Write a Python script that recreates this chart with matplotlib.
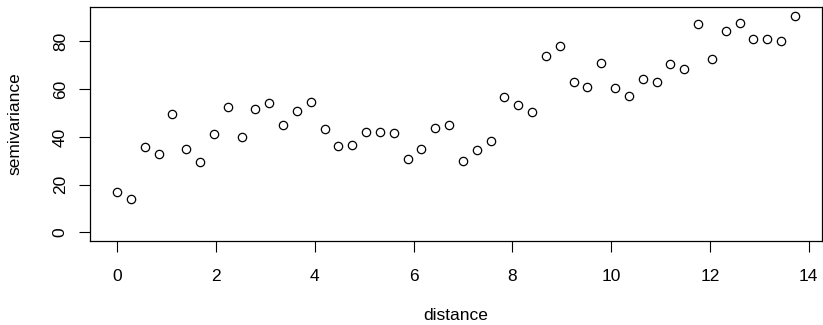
import matplotlib
matplotlib.use("Agg")
import matplotlib.pyplot as plt

# lag distances and semivariance estimates
distance = [
    0.00, 0.28, 0.56, 0.84, 1.12, 1.40, 1.68, 1.96, 2.24, 2.52,
    2.80, 3.08, 3.36, 3.64, 3.92, 4.20, 4.48, 4.76, 5.04, 5.32,
    5.60, 5.88, 6.16, 6.44, 6.72, 7.00, 7.28, 7.56, 7.84, 8.12,
    8.40, 8.68, 8.96, 9.24, 9.52, 9.80, 10.08, 10.36, 10.64, 10.92,
    11.20, 11.48, 11.76, 12.04, 12.32, 12.60, 12.88, 13.16, 13.44, 13.72,
]
semivariance = [
    17.1, 13.9, 35.6, 32.8, 49.6, 35.1, 29.4, 41.0, 52.7, 39.9,
    51.8, 54.4, 45.1, 50.9, 54.8, 43.4, 36.0, 36.6, 41.9, 41.9,
    41.5, 30.7, 34.9, 43.6, 45.1, 30.0, 34.7, 38.4, 56.9, 53.2,
    50.6, 73.7, 78.0, 63.2, 60.7, 70.9, 60.5, 57.2, 64.4, 62.9,
    70.5, 68.5, 87.4, 72.8, 84.5, 87.8, 81.1, 81.0, 80.1, 90.8,
]
x_ticks = [0, 2, 4, 6, 8, 10, 12, 14]
y_ticks = [0, 20, 40, 60, 80]

plt.rcParams["font.family"] = ["Liberation Sans", "DejaVu Sans"]

fig = plt.figure(figsize=(8.23, 3.25), dpi=100, facecolor="white")
ax = fig.add_axes([90 / 823, 1 - 241 / 325, (822 - 90) / 823, (241 - 7) / 325])

ax.plot(distance, semivariance, linestyle="none", marker="o",
        markersize=6.0, markerfacecolor="none", markeredgecolor="black",
        markeredgewidth=0.9)

# R-style 4% axis padding, y starting from 0
x_lo, x_hi = min(distance), max(distance)
pad_x = 0.04 * (x_hi - x_lo)
ax.set_xlim(x_lo - pad_x, x_hi + pad_x)
y_lo, y_hi = 0, max(semivariance)
pad_y = 0.04 * (y_hi - y_lo)
ax.set_ylim(y_lo - pad_y, y_hi + pad_y)

ax.set_xticks(x_ticks)
ax.set_yticks(y_ticks)
ax.tick_params(axis="both", direction="out", length=8, width=0.8,
               labelsize=12.5, color="black")
ax.tick_params(axis="x", pad=12)
ax.tick_params(axis="y", pad=8)
for lbl in ax.get_yticklabels():
    lbl.set_rotation(90)
    lbl.set_va("center")

for sp in ax.spines.values():
    sp.set_linewidth(0.9)
    sp.set_color("black")

fig.text(15 / 823, 1 - 124 / 325, "semivariance", rotation=90,
         ha="center", va="center", fontsize=12.5)
fig.text(456 / 823, 1 - 315 / 325, "distance",
         ha="center", va="center", fontsize=12.5)

fig.savefig("out.png", dpi=100, facecolor="white")
